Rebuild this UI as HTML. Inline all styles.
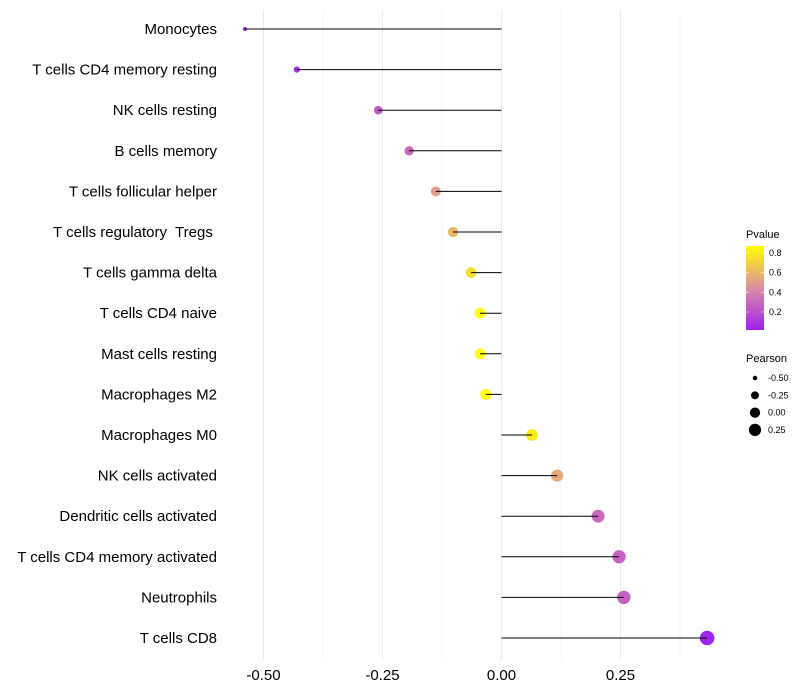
<!DOCTYPE html>
<html><head><meta charset="utf-8"><style>
body{margin:0;background:#fff;}
svg{display:block;font-family:"Liberation Sans",Arial,sans-serif;}
text{white-space:pre;}
</style></head><body>
<svg id="chart" width="800" height="700" viewBox="0 0 800 700">
<defs>
<linearGradient id="pgrad" x1="0" y1="1" x2="0" y2="0">
<stop offset="0" stop-color="#A020F0"/><stop offset="0.5" stop-color="#DC8EA2"/><stop offset="1" stop-color="#FFFF00"/>
</linearGradient>
</defs>
<g id="grid"></g>
<g id="marks"></g>
<g id="ylabels"></g>
<g id="xlabels"></g>
<g>
<text x="746" y="238" font-size="11">Pvalue</text>
<rect x="746" y="246" width="18" height="84" fill="url(#pgrad)"/>
<g id="cbticks"></g>
</g>
<g id="sizeleg">
<text x="746" y="362" font-size="11">Pearson</text>
</g>
</svg>
<script>
const categories=["Monocytes","T cells CD4 memory resting","NK cells resting","B cells memory","T cells follicular helper","T cells regulatory  Tregs ","T cells gamma delta","T cells CD4 naive","Mast cells resting","Macrophages M2","Macrophages M0","NK cells activated","Dendritic cells activated","T cells CD4 memory activated","Neutrophils","T cells CD8"];
const pearson=[-0.539,-0.430,-0.259,-0.194,-0.138,-0.102,-0.064,-0.045,-0.045,-0.033,0.064,0.117,0.203,0.247,0.257,0.432];
const pvalues=[0.02,0.05,0.25,0.3,0.5,0.6,0.75,0.88,0.88,0.88,0.8,0.55,0.3,0.27,0.27,0.03];
const xTicks=[-0.5,-0.25,0,0.25];
const xTickLabels=["-0.50","-0.25","0.00","0.25"];
const cbTicks=[0.2,0.4,0.6,0.8];
const sizeLegend=[-0.5,-0.25,0,0.25];
const sizeLegendLabels=["-0.50","-0.25","0.00","0.25"];
const NS="http://www.w3.org/2000/svg";
const x=v=>501.5+v*476;
const y=i=>29+i*40.6;
const pMin=0.017,pMax=0.87;
const cbY=p=>330-(p-pMin)/(pMax-pMin)*84;
function lerp(a,b,t){return Math.round(a+(b-a)*t);}
function color(p){let t=Math.max(0,Math.min(1,(p-pMin)/(pMax-pMin)));
 const s=[[160,32,240],[220,142,162],[255,255,0]];let a,b,u;
 if(t<0.5){a=s[0];b=s[1];u=t/0.5;}else{a=s[1];b=s[2];u=(t-0.5)/0.5;}
 return `rgb(${lerp(a[0],b[0],u)},${lerp(a[1],b[1],u)},${lerp(a[2],b[2],u)})`;}
const rad=v=>Math.sqrt(Math.max(0,4+50.8*(v+0.54)));
function el(tag,attrs,parent){const e=document.createElementNS(NS,tag);for(const k in attrs)e.setAttribute(k,attrs[k]);parent.appendChild(e);return e;}
const grid=document.getElementById('grid');
[-0.5,-0.375,-0.25,-0.125,0,0.125,0.25,0.375].forEach(v=>{
 const l=el('line',{x1:x(v),x2:x(v),y1:10,y2:660,stroke:'#ebebeb','stroke-width':v*8%2===0?1:0.5},grid);
 
 
});
const marks=document.getElementById('marks'),yl=document.getElementById('ylabels'),xl=document.getElementById('xlabels');
categories.forEach((c,i)=>{
 const pt=el('circle',{cx:x(pearson[i]),cy:y(i),r:rad(pearson[i]),fill:color(pvalues[i])},marks);
 
 
 const ln=el('line',{x1:x(0),x2:x(pearson[i]),y1:y(i),y2:y(i),stroke:'#000','stroke-width':1},marks);
 
 
 const t=el('text',{x:217,y:y(i)+5,'font-size':15,'text-anchor':'end',fill:'#000'},yl);
 t.textContent=c;
 
 
});
xTicks.forEach((v,i)=>{
 const t=el('text',{x:x(v),y:680,'font-size':15,'text-anchor':'middle',fill:'#000'},xl);
 t.textContent=xTickLabels[i];
 
 
});
const cb=document.getElementById('cbticks');
cbTicks.forEach(p=>{
 el('line',{x1:746,x2:749,y1:cbY(p),y2:cbY(p),stroke:'#fff','stroke-opacity':0.6},cb);
 el('line',{x1:761,x2:764,y1:cbY(p),y2:cbY(p),stroke:'#fff','stroke-opacity':0.6},cb);
 const t=el('text',{x:769,y:cbY(p)+3,'font-size':9},cb);
 t.textContent=p.toFixed(1);
 
 
});
const sl=document.getElementById('sizeleg');
sizeLegend.forEach((v,i)=>{
 const yy=378+i*17.3;
 const c=el('circle',{cx:755,cy:yy,r:rad(v)*0.92,fill:'#000'},sl);
 
 
 const t=el('text',{x:768,y:yy+3,'font-size':9},sl);
 t.textContent=sizeLegendLabels[i];
 
 
});
</script>
</body></html>
